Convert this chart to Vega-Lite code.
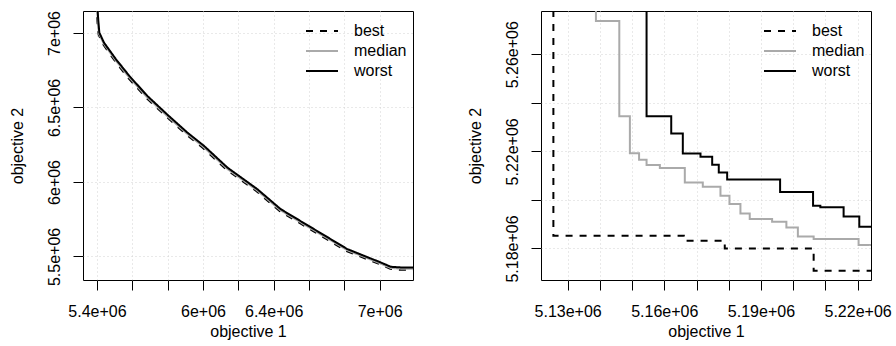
{
  "$schema": "https://vega.github.io/schema/vega-lite/v6.json",
  "background": "white",
  "padding": {"left": 8, "top": 10, "right": 5, "bottom": 5},
  "bounds": "flush",
  "spacing": 128,
  "config": {
    "font": "Liberation Sans",
    "view": {"stroke": "black", "strokeWidth": 1},
    "axis": {
      "domain": false,
      "ticks": true,
      "tickColor": "black",
      "tickWidth": 1,
      "tickSize": 10,
      "grid": true,
      "gridColor": "#d3d3d3",
      "gridDash": [1, 3],
      "gridWidth": 1,
      "labelFont": "Liberation Sans",
      "labelFontSize": 16,
      "labelColor": "black",
      "labelOverlap": false,
      "labelFlush": false,
      "titleFont": "Liberation Sans",
      "titleFontSize": 16,
      "titleFontWeight": "normal",
      "titleColor": "black"
    },
    "axisX": {
      "labelBaseline": "alphabetic",
      "labelPadding": 26,
      "minExtent": 40,
      "maxExtent": 40,
      "titlePadding": 16.6,
      "titleBaseline": "alphabetic"
    },
    "axisY": {
      "labelAngle": -90,
      "labelAlign": "center",
      "labelBaseline": "alphabetic",
      "labelPadding": 14,
      "minExtent": 45,
      "maxExtent": 45,
      "titlePadding": 16,
      "titleAngle": -90,
      "titleBaseline": "alphabetic"
    },
    "legend": {
      "labelFont": "Liberation Sans",
      "labelFontSize": 16,
      "labelColor": "black"
    }
  },
  "datasets": {
    "leftData": [
      {"series": "best", "x": 5399000, "y": 7200000},
      {"series": "best", "x": 5399500, "y": 7140000},
      {"series": "best", "x": 5403000, "y": 7070000},
      {"series": "best", "x": 5409000, "y": 6990000},
      {"series": "best", "x": 5436000, "y": 6922000},
      {"series": "best", "x": 5503000, "y": 6810000},
      {"series": "best", "x": 5578000, "y": 6697000},
      {"series": "best", "x": 5680000, "y": 6563000},
      {"series": "best", "x": 5795000, "y": 6436000},
      {"series": "best", "x": 5906000, "y": 6318000},
      {"series": "best", "x": 6000000, "y": 6228000},
      {"series": "best", "x": 6133000, "y": 6083000},
      {"series": "best", "x": 6303000, "y": 5938000},
      {"series": "best", "x": 6435000, "y": 5804000},
      {"series": "best", "x": 6624000, "y": 5670000},
      {"series": "best", "x": 6813000, "y": 5536000},
      {"series": "best", "x": 7002000, "y": 5447000},
      {"series": "best", "x": 7060000, "y": 5417000},
      {"series": "best", "x": 7120000, "y": 5410000},
      {"series": "best", "x": 7250000, "y": 5410000},
      {"series": "median", "x": 5401500, "y": 7200000},
      {"series": "median", "x": 5402000, "y": 7143000},
      {"series": "median", "x": 5405500, "y": 7075000},
      {"series": "median", "x": 5411000, "y": 6996000},
      {"series": "median", "x": 5438000, "y": 6929000},
      {"series": "median", "x": 5505000, "y": 6817000},
      {"series": "median", "x": 5580000, "y": 6705000},
      {"series": "median", "x": 5682000, "y": 6571000},
      {"series": "median", "x": 5797000, "y": 6443000},
      {"series": "median", "x": 5909000, "y": 6325000},
      {"series": "median", "x": 6003000, "y": 6235000},
      {"series": "median", "x": 6135000, "y": 6090000},
      {"series": "median", "x": 6305000, "y": 5945000},
      {"series": "median", "x": 6437000, "y": 5811000},
      {"series": "median", "x": 6626000, "y": 5677000},
      {"series": "median", "x": 6815000, "y": 5543000},
      {"series": "median", "x": 7004000, "y": 5453000},
      {"series": "median", "x": 7061000, "y": 5423000},
      {"series": "median", "x": 7119000, "y": 5418000},
      {"series": "median", "x": 7250000, "y": 5418000},
      {"series": "worst", "x": 5403000, "y": 7200000},
      {"series": "worst", "x": 5403774, "y": 7147543},
      {"series": "worst", "x": 5407547, "y": 7080478},
      {"series": "worst", "x": 5413208, "y": 7002236},
      {"series": "worst", "x": 5439623, "y": 6935170},
      {"series": "worst", "x": 5507548, "y": 6823395},
      {"series": "worst", "x": 5583020, "y": 6711621},
      {"series": "worst", "x": 5684907, "y": 6577491},
      {"series": "worst", "x": 5800002, "y": 6450067},
      {"series": "worst", "x": 5911323, "y": 6331586},
      {"series": "worst", "x": 6005663, "y": 6242166},
      {"series": "worst", "x": 6137739, "y": 6096858},
      {"series": "worst", "x": 6307551, "y": 5951550},
      {"series": "worst", "x": 6439627, "y": 5817420},
      {"series": "worst", "x": 6628307, "y": 5683290},
      {"series": "worst", "x": 6816987, "y": 5549160},
      {"series": "worst", "x": 7005667, "y": 5459738},
      {"series": "worst", "x": 7062271, "y": 5430677},
      {"series": "worst", "x": 7118875, "y": 5426206},
      {"series": "worst", "x": 7250000, "y": 5426206}
    ],
    "rightData": [
      {"series": "best", "x": 5124567, "y": 5300000},
      {"series": "best", "x": 5125567, "y": 5185230},
      {"series": "best", "x": 5166053, "y": 5183173},
      {"series": "best", "x": 5178763, "y": 5180003},
      {"series": "best", "x": 5206353, "y": 5170828},
      {"series": "best", "x": 5230000, "y": 5170828},
      {"series": "median", "x": 5137773, "y": 5300000},
      {"series": "median", "x": 5138773, "y": 5273703},
      {"series": "median", "x": 5146027, "y": 5234487},
      {"series": "median", "x": 5149313, "y": 5219179},
      {"series": "median", "x": 5152165, "y": 5216504},
      {"series": "median", "x": 5154490, "y": 5214323},
      {"series": "median", "x": 5158613, "y": 5213089},
      {"series": "median", "x": 5166363, "y": 5207163},
      {"series": "median", "x": 5171943, "y": 5205394},
      {"series": "median", "x": 5177430, "y": 5201690},
      {"series": "median", "x": 5180220, "y": 5198275},
      {"series": "median", "x": 5183630, "y": 5194407},
      {"series": "median", "x": 5186513, "y": 5192144},
      {"series": "median", "x": 5193457, "y": 5190991},
      {"series": "median", "x": 5197890, "y": 5188646},
      {"series": "median", "x": 5201455, "y": 5184942},
      {"series": "median", "x": 5206353, "y": 5183872},
      {"series": "median", "x": 5220303, "y": 5181403},
      {"series": "median", "x": 5230000, "y": 5181403},
      {"series": "worst", "x": 5153490, "y": 5300000},
      {"series": "worst", "x": 5154490, "y": 5234487},
      {"series": "worst", "x": 5162147, "y": 5227327},
      {"series": "worst", "x": 5165743, "y": 5219097},
      {"series": "worst", "x": 5171230, "y": 5217739},
      {"series": "worst", "x": 5174857, "y": 5214447},
      {"series": "worst", "x": 5176903, "y": 5211278},
      {"series": "worst", "x": 5179507, "y": 5208398},
      {"series": "worst", "x": 5195937, "y": 5203213},
      {"series": "worst", "x": 5206167, "y": 5197575},
      {"series": "worst", "x": 5208430, "y": 5196958},
      {"series": "worst", "x": 5215653, "y": 5193172},
      {"series": "worst", "x": 5220520, "y": 5188934},
      {"series": "worst", "x": 5230000, "y": 5188934}
    ]
  },
  "hconcat": [
    {
      "width": 330,
      "height": 269,
      "data": {"name": "leftData"},
      "mark": {"type": "line", "clip": true, "strokeWidth": 2, "interpolate": "linear"},
      "encoding": {
        "x": {
          "field": "x", "type": "quantitative",
          "scale": {"domain": [5320800, 7188600], "nice": false, "zero": false},
          "axis": {
            "title": "objective 1",
            "values": [5400000, 5600000, 5800000, 6000000, 6200000, 6400000, 6600000, 6800000, 7000000],
            "labelExpr": "datum.value == 5400000 ? '5.4e+06' : datum.value == 6000000 ? '6e+06' : datum.value == 6400000 ? '6.4e+06' : datum.value == 7000000 ? '7e+06' : ''"
          }
        },
        "y": {
          "field": "y", "type": "quantitative",
          "scale": {"domain": [5341800, 7147500], "nice": false, "zero": false},
          "axis": {
            "title": "objective 2",
            "values": [5500000, 6000000, 6500000, 7000000],
            "labelExpr": "datum.value == 5500000 ? '5.5e+06' : datum.value == 6000000 ? '6e+06' : datum.value == 6500000 ? '6.5e+06' : '7e+06'"
          }
        },
        "color": {
          "field": "series", "type": "nominal",
          "scale": {"domain": ["best", "median", "worst"], "range": ["black", "#aaaaaa", "black"]},
          "legend": {"title": null, "orient": "none", "legendX": 231, "legendY": 12, "symbolType": "M-3.2,0H3.2", "symbolSize": 100, "symbolStrokeWidth": 2, "labelOffset": 24, "rowPadding": 4, "padding": 0}
        },
        "strokeDash": {
          "field": "series", "type": "nominal",
          "scale": {"domain": ["best", "median", "worst"], "range": [[7, 7], [1, 0], [1, 0]]},
          "legend": {"title": null, "orient": "none", "legendX": 231, "legendY": 12, "symbolType": "M-3.2,0H3.2", "symbolSize": 100, "symbolStrokeWidth": 2, "labelOffset": 24, "rowPadding": 4, "padding": 0}
        }
      }
    },
    {
      "width": 330,
      "height": 269,
      "data": {"name": "rightData"},
      "mark": {"type": "line", "clip": true, "strokeWidth": 2, "interpolate": "step-after"},
      "encoding": {
        "x": {
          "field": "x", "type": "quantitative",
          "scale": {"domain": [5121723, 5224154], "nice": false, "zero": false},
          "axis": {
            "title": "objective 1",
            "values": [5130000, 5140000, 5150000, 5160000, 5170000, 5180000, 5190000, 5200000, 5210000, 5220000],
            "labelExpr": "datum.value == 5130000 ? '5.13e+06' : datum.value == 5160000 ? '5.16e+06' : datum.value == 5190000 ? '5.19e+06' : datum.value == 5220000 ? '5.22e+06' : ''"
          }
        },
        "y": {
          "field": "y", "type": "quantitative",
          "scale": {"domain": [5166997, 5277818], "nice": false, "zero": false},
          "axis": {
            "title": "objective 2",
            "values": [5180000, 5200000, 5220000, 5240000, 5260000],
            "labelExpr": "datum.value == 5180000 ? '5.18e+06' : datum.value == 5220000 ? '5.22e+06' : datum.value == 5260000 ? '5.26e+06' : ''"
          }
        },
        "color": {
          "field": "series", "type": "nominal",
          "scale": {"domain": ["best", "median", "worst"], "range": ["black", "#aaaaaa", "black"]},
          "legend": {"title": null, "orient": "none", "legendX": 231, "legendY": 12, "symbolType": "M-3.2,0H3.2", "symbolSize": 100, "symbolStrokeWidth": 2, "labelOffset": 24, "rowPadding": 4, "padding": 0}
        },
        "strokeDash": {
          "field": "series", "type": "nominal",
          "scale": {"domain": ["best", "median", "worst"], "range": [[7, 7], [1, 0], [1, 0]]},
          "legend": {"title": null, "orient": "none", "legendX": 231, "legendY": 12, "symbolType": "M-3.2,0H3.2", "symbolSize": 100, "symbolStrokeWidth": 2, "labelOffset": 24, "rowPadding": 4, "padding": 0}
        }
      }
    }
  ],
  "resolve": {
    "scale": {"x": "independent", "y": "independent", "color": "independent", "strokeDash": "independent"},
    "legend": {"color": "independent", "strokeDash": "independent"}
  }
}
